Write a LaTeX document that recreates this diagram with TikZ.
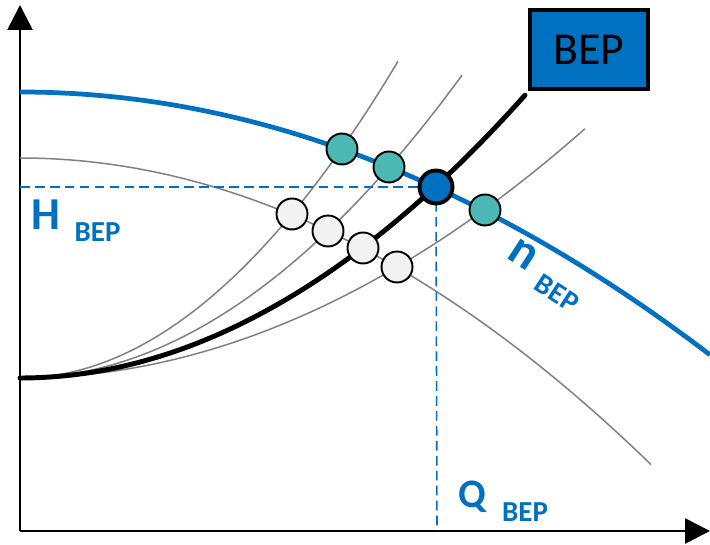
\documentclass[tikz,border=0pt]{standalone}
\usepackage{fontspec}
\setmainfont{Carlito}
\usetikzlibrary{positioning,arrows.meta}
\definecolor{pumpblue}{HTML}{0070C0}
\definecolor{opteal}{HTML}{4BB8B5}
\definecolor{oplight}{HTML}{F2F2F2}
\definecolor{curvegray}{HTML}{808080}

\begin{document}
\begin{tikzpicture}[x=2cm, y=2cm,
    axis/.style={line width=1.5pt, -{Triangle[length=0.5cm, width=0.5cm]}},
    syscurve/.style={curvegray, line width=0.85pt},
    guide/.style={pumpblue, line width=0.9pt, dash pattern=on 5.5pt off 3pt},
    oppoint/.style={circle, draw=black, line width=1.1pt, minimum size=0.62cm, inner sep=0pt},
    label/.style={pumpblue, inner sep=0pt, font=\bfseries\fontsize{26}{28}\selectfont},
    sublabel/.style={pumpblue, inner sep=0pt, font=\bfseries\fontsize{16.5}{18}\selectfont}]
    \useasboundingbox (-0.2,-0.13) rectangle (6.9,5.31);

    % Axes
    \draw[axis] (0,0) -- (6.9,0);
    \draw[axis] (0,0) -- (0,5.26);

    % System curves
    \foreach \k/\q in {0.2217/3.78, 0.155/4.42, 0.0781/5.65} {
        \draw[syscurve] plot[domain=0:\q, samples=60, smooth] (\x, {1.53+\k*\x*\x});
    }
    \draw[black, line width=2.8pt, line cap=round] plot[domain=0:5.05, samples=60, smooth] (\x, {1.53+0.1109*\x*\x});

    % Pump curves
    \draw[syscurve] plot[domain=0:6.31, samples=60, smooth] (\x, {3.73-0.077*\x*\x});
    \draw[pumpblue, line width=2.7pt] plot[domain=0:6.9, samples=60, smooth] (\x, {4.39-0.0552*\x*\x});

    % Best efficiency point guides
    \coordinate (bepc) at (4.16,3.44);
    \coordinate (hax) at (0,3.44);
    \coordinate (qax) at (4.17,0);
    \draw[guide] (hax) -- (bepc);
    \draw[guide] (bepc) -- (qax);

    % Operating points
    \foreach \x/\y [count=\i] in {2.72/3.17, 3.08/3.00, 3.43/2.83, 3.77/2.64} {
        \node[oppoint, fill=oplight] (w\i) at (\x,\y) {};
    }
    \foreach \x/\y [count=\i] in {3.22/3.82, 3.69/3.64, 4.65/3.21} {
        \node[oppoint, fill=opteal] (t\i) at (\x,\y) {};
    }
    \node[oppoint, fill=pumpblue, line width=2.2pt, minimum size=0.66cm] (bp) at (bepc) {};

    % Labels
    \node[label] (hlab) at (0.255,3.16) {H};
    \node[sublabel] (hsub) at (0.775,2.985) {BEP};
    \node[label, font=\bfseries\fontsize{23}{25}\selectfont] (qlab) at (4.52,0.34) {Q};
    \node[sublabel] (qsub) at (5.05,0.185) {BEP};
    \node[label, font=\bfseries\fontsize{28}{30}\selectfont, rotate=-33, anchor=base west] (nlab) at (4.85,2.74)
        {n\hspace{8pt}\raisebox{-6.6pt}{\fontsize{16.5}{18}\selectfont BEP}};

    % BEP box
    \node[draw=black, line width=2pt, fill=pumpblue, minimum width=2.36cm, minimum height=1.58cm,
        font=\fontsize{26}{28}\selectfont] (bep) at (5.69,4.815) {BEP};
\end{tikzpicture}
\end{document}
